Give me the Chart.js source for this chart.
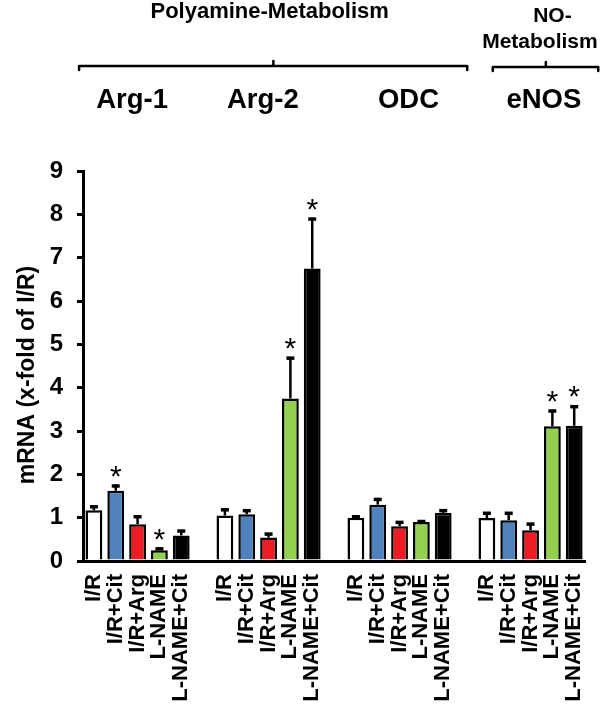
<!DOCTYPE html>
<html>
<head>
<meta charset="utf-8">
<script src="https://cdn.jsdelivr.net/npm/chart.js@4/dist/chart.umd.min.js"></script>
<style>
  html, body { margin: 0; padding: 0; background: #fff; }
  #wrap { width: 614px; height: 704px; }
</style>
</head>
<body>
<div id="wrap"><canvas id="mrnaChart" width="614" height="704"></canvas></div>
<script>
// genes and treatments
const genes = ['Arg-1', 'Arg-2', 'ODC', 'eNOS'];
const treatments = ['I/R', 'I/R+Cit', 'I/R+Arg', 'L-NAME', 'L-NAME+Cit'];
const treatmentColors = ['#ffffff', '#4f81bd', '#ed1c24', '#92d050', '#000000'];

// mean mRNA (x-fold of I/R)
const arg1Mean = [1.17, 1.62, 0.85, 0.25, 0.59];
const arg2Mean = [1.05, 1.08, 0.54, 3.75, 6.75];
const odcMean  = [1.00, 1.30, 0.80, 0.90, 1.11];
const enosMean = [0.99, 0.94, 0.71, 3.11, 3.12];

// upper error (SEM)
const arg1Sem = [0.11, 0.14, 0.20, 0.06, 0.13];
const arg2Sem = [0.16, 0.11, 0.11, 0.96, 1.17];
const odcSem  = [0.05, 0.15, 0.12, 0.04, 0.08];
const enosSem = [0.14, 0.19, 0.17, 0.38, 0.47];

// significance marks
const arg1Star = [false, true, false, true, false];
const arg2Star = [false, false, false, true, true];
const odcStar  = [false, false, false, false, false];
const enosStar = [false, false, false, true, true];

const yTicks = [0, 1, 2, 3, 4, 5, 6, 7, 8, 9];

// build flat category list with an empty slot between genes
const means = [arg1Mean, arg2Mean, odcMean, enosMean];
const sems = [arg1Sem, arg2Sem, odcSem, enosSem];
const stars = [arg1Star, arg2Star, odcStar, enosStar];
const labels = [], values = [], errors = [], marks = [], fills = [];
genes.forEach((g, gi) => {
    treatments.forEach((t, ti) => {
        labels.push(t);
        values.push(means[gi][ti]);
        errors.push(sems[gi][ti]);
        marks.push(stars[gi][ti]);
        fills.push(treatmentColors[ti]);
    });
    if (gi < genes.length - 1) {
        labels.push('');
        values.push(null);
        errors.push(null);
        marks.push(false);
        fills.push('#ffffff');
    }
});

const FONT = "'Liberation Sans', Arial, sans-serif";

// error bars + asterisks
const errorBarPlugin = {
    id: 'errorBars',
    afterDatasetsDraw(chart) {
        const ctx = chart.ctx;
        const y = chart.scales.y;
        const meta = chart.getDatasetMeta(0);
        ctx.save();
        ctx.strokeStyle = '#000';
        ctx.fillStyle = '#000';
        meta.data.forEach((bar, i) => {
            if (values[i] === null) return;
            const top = y.getPixelForValue(values[i] + errors[i]);
            ctx.lineWidth = 2.5;
            ctx.beginPath();
            ctx.moveTo(bar.x, bar.y);
            ctx.lineTo(bar.x, top);
            ctx.stroke();
            ctx.fillRect(bar.x - 4, top - 0.5, 8, 3.5);
            if (marks[i]) {
                ctx.font = '30px ' + FONT;
                ctx.textAlign = 'center';
                ctx.textBaseline = 'alphabetic';
                ctx.fillText('*', bar.x, top + 1);
            }
        });
        ctx.restore();
    }
};

// header brackets, group names and y title
const headerPlugin = {
    id: 'header',
    afterDraw(chart) {
        const ctx = chart.ctx;
        const x = chart.scales.x;
        const px = v => x.getPixelForValue(v);
        ctx.save();
        ctx.fillStyle = '#000';
        ctx.strokeStyle = '#000';
        ctx.textAlign = 'center';
        ctx.textBaseline = 'alphabetic';

        ctx.font = 'bold 22px ' + FONT;
        ctx.fillText('Polyamine-Metabolism', px(8.05), 18);
        ctx.font = 'bold 21px ' + FONT;
        ctx.fillText('NO-', px(21.0), 22);
        ctx.fillText('Metabolism', px(20.43), 48);

        ctx.lineWidth = 2.5;
        ctx.lineJoin = 'round';
        ctx.lineCap = 'round';
        const bracket = (a, b, t, yy) => {
            ctx.beginPath();
            ctx.moveTo(px(a), yy + 4);
            ctx.lineTo(px(a), yy);
            ctx.lineTo(px(b), yy);
            ctx.lineTo(px(b), yy + 4);
            ctx.moveTo(px(t), yy);
            ctx.lineTo(px(t), yy - 5);
            ctx.stroke();
        };
        bracket(-0.68, 17.1, 8.22, 66);
        bracket(18.27, 23.1, 20.7, 67);

        ctx.font = 'bold 27.5px ' + FONT;
        const geneX = [1.75, 7.74, 14.41, 20.61];
        genes.forEach((g, i) => ctx.fillText(g, px(geneX[i]), 108));

        // y axis title
        ctx.font = 'bold 23px ' + FONT;
        ctx.translate(28, 375);
        ctx.rotate(-Math.PI / 2);
        ctx.textBaseline = 'middle';
        ctx.fillText('mRNA (x-fold of I/R)', 0, 0);
        ctx.restore();
    }
};

new Chart(document.getElementById('mrnaChart'), {
    type: 'bar',
    data: {
        labels: labels,
        datasets: [{
            data: values,
            backgroundColor: fills,
            borderColor: '#000',
            borderWidth: 2.5,
            barPercentage: 0.77,
            categoryPercentage: 1.0
        }]
    },
    options: {
        responsive: false,
        animation: false,
        layout: { padding: { top: 171, right: 18, left: 0, bottom: 0 } },
        plugins: {
            legend: { display: false },
            tooltip: { enabled: false }
        },
        scales: {
            x: {
                afterFit: s => { s.height = 143; },
                grid: { display: false, drawTicks: false },
                border: { display: true, color: '#000', width: 3 },
                ticks: {
                    autoSkip: false,
                    maxRotation: 90,
                    minRotation: 90,
                    padding: 13,
                    color: '#000',
                    font: { family: FONT, size: 22, weight: 'bold' }
                }
            },
            y: {
                min: 0,
                max: 9,
                afterFit: s => { s.width = 83; },
                afterBuildTicks: s => { s.ticks = yTicks.map(v => ({ value: v })); },
                grid: { display: true, drawOnChartArea: false, drawTicks: true, tickLength: 6, color: '#000', lineWidth: 3 },
                border: { display: true, color: '#000', width: 3 },
                ticks: {
                    padding: 14,
                    color: '#000',
                    font: { family: FONT, size: 24, weight: 'bold' }
                }
            }
        }
    },
    plugins: [errorBarPlugin, headerPlugin]
});
</script>
</body>
</html>
